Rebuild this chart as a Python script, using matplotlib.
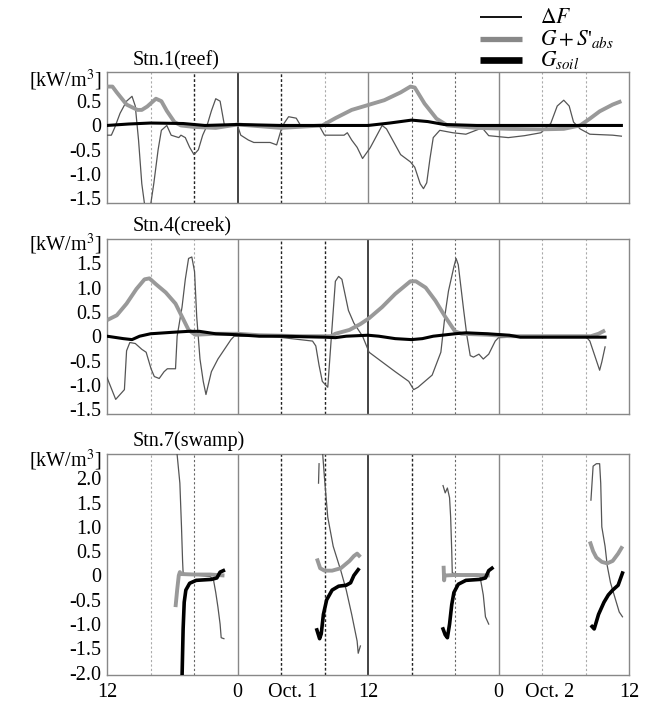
import numpy as np
import matplotlib
matplotlib.use('Agg')
import matplotlib.pyplot as plt
from matplotlib.lines import Line2D

plt.rcParams['font.family'] = ['Liberation Serif', 'DejaVu Serif']
plt.rcParams['mathtext.fontset'] = 'stix'

nan = np.nan

# hours after 12:00 on Sep. 30
# ---- Stn.1 (reef)
s1_df_t = [0, 0.4, 0.7, 1.2, 1.8, 2.3, 2.6, 2.9, 3.2, 3.5, 3.9, 4.3, 4.7, 5.0, 5.5, 5.9, 6.6, 6.8, 7.2, 7.6,
           8.0, 8.4, 8.8, 9.2, 9.6, 10.0, 10.4, 10.8, 11.2, 12.0, 12.3, 13.0, 13.5, 15.0, 15.6, 16.0, 16.3,
           16.7, 17.4, 17.8, 19.5, 20.0, 21.8, 22.1, 22.5, 23.0, 23.5, 24.2, 25.3, 25.7, 27.0, 27.9, 28.3,
           28.8, 29.1, 29.4, 29.7, 30.0, 30.6, 31.8, 33.0, 34.5, 35.1, 36.9, 38.4, 39.9, 40.8, 41.4, 42.0,
           42.5, 42.9, 43.5, 44.4, 46.5, 47.3]
s1_df_v = [-0.2, -0.2, -0.05, 0.25, 0.5, 0.6, 0.4, -0.3, -1.2, -1.7, -1.8, -1.2, -0.5, -0.1, 0.0, -0.2, -0.25,
           -0.2, -0.25, -0.45, -0.6, -0.5, -0.2, 0.0, 0.3, 0.55, 0.5, 0.0, 0.0, 0.0, -0.2, -0.3, -0.35, -0.35,
           -0.4, -0.1, 0.05, 0.18, 0.15, 0.0, 0.0, -0.2, -0.2, -0.15, -0.3, -0.45, -0.68, -0.46, 0.0, -0.07,
           -0.6, -0.75, -0.86, -1.2, -1.3, -1.18, -0.68, -0.25, -0.1, -0.15, -0.18, -0.05, -0.21, -0.25,
           -0.21, -0.15, 0.04, 0.4, 0.52, 0.4, 0.07, -0.07, -0.18, -0.2, -0.22]
s1_g_t = [0, 0.5, 0.9, 1.8, 2.8, 3.2, 3.7, 4.5, 5.0, 5.5, 6.2, 6.8, 8.0, 10.0, 12.0, 16.0, 19.8, 21.0, 22.5,
          24.0, 25.5, 27.0, 27.9, 28.3, 29.2, 30.3, 31.3, 34.0, 37.0, 39.9, 42.0, 43.5, 44.4, 45.3, 46.5, 47.3]
s1_g_v = [0.8, 0.8, 0.68, 0.43, 0.32, 0.32, 0.39, 0.55, 0.5, 0.3, 0.07, 0.0, -0.03, -0.05, 0.02, -0.05, 0.0,
          0.15, 0.32, 0.42, 0.52, 0.68, 0.8, 0.78, 0.45, 0.14, 0.0, -0.05, -0.07, -0.08, -0.07, 0.0, 0.14,
          0.29, 0.43, 0.5]
s1_s_t = [0, 2, 4, 7, 9, 12, 16, 20, 24, 26, 28, 29.5, 31, 34, 47.3]
s1_s_v = [0.0, 0.03, 0.05, 0.04, 0.0, 0.02, 0.0, 0.0, 0.0, 0.05, 0.11, 0.08, 0.02, 0.0, 0.0]

# ---- Stn.4 (creek)
s4_df_t = [0, 0.8, 1.2, 1.6, 1.8, 2.1, 2.6, 3.2, 3.6, 4.05, 4.35, 4.8, 5.25, 5.55, 6.3, 6.45, 6.9, 7.2, 7.5,
           7.8, 8.05, 8.25, 8.55, 8.85, 9.1, 9.6, 10.2, 10.8, 11.4, 11.7, 15.0, 18.9, 19.2, 19.5, 19.8,
           20.3, 20.7, 21.0, 21.3, 21.6, 22.2, 22.7, 23.5, 24.1, 25.3, 26.5, 27.75, 28.2, 28.6, 29.9, 30.7,
           31.1, 31.4, 31.9, 32.1, 32.3, 32.8, 33.1, 33.4, 33.7, 34.2, 34.6, 35.1, 35.7, 36.0, 40.0, 44.0,
           44.4, 44.85, 45.3, 45.5, 45.8]
s4_df_v = [-0.85, -1.3, -1.2, -1.1, -0.3, -0.13, -0.15, -0.27, -0.33, -0.67, -0.83, -0.87, -0.73, -0.67,
           -0.67, 0.0, 0.6, 1.17, 1.6, 1.63, 1.33, 0.4, -0.47, -0.93, -1.2, -0.73, -0.47, -0.27, -0.07, 0.0,
           0.0, -0.1, -0.2, -0.6, -0.93, -1.05, 0.2, 1.13, 1.23, 1.17, 0.53, 0.27, 0.0, -0.33, -0.53, -0.73,
           -0.93, -1.1, -1.05, -0.8, -0.33, 0.47, 0.93, 1.43, 1.6, 1.47, 0.53, 0.0, -0.4, -0.43, -0.37,
           -0.47, -0.37, -0.1, -0.03, 0.0, 0.0, -0.1, -0.4, -0.7, -0.53, -0.22]
s4_g_t = [0, 0.9, 1.8, 2.7, 3.45, 3.9, 4.5, 5.4, 6.3, 6.9, 7.5, 8.1, 10.0, 12.0, 14.0, 18.0, 20.6, 21.0,
          22.3, 23.3, 24.1, 25.3, 26.5, 27.9, 28.4, 29.3, 30.2, 31.1, 32.0, 32.6, 35.0, 37.0, 44.5, 45.2,
          45.8]
s4_g_v = [0.33, 0.43, 0.67, 0.97, 1.17, 1.19, 1.07, 0.9, 0.67, 0.4, 0.13, 0.03, 0.05, 0.05, 0.02, 0.0, 0.0,
          0.05, 0.13, 0.25, 0.37, 0.6, 0.87, 1.13, 1.13, 1.0, 0.73, 0.4, 0.1, 0.05, 0.03, 0.0, 0.0, 0.05,
          0.12]
s4_s_t = [0, 1.5, 2.3, 3, 4, 6, 7.5, 8.5, 10, 12, 14, 16, 20, 21, 22, 24, 25, 26.5, 28, 29, 30, 32, 33, 35,
          37, 38, 45.8]
s4_s_v = [0.0, -0.05, -0.07, 0.0, 0.05, 0.08, 0.1, 0.1, 0.05, 0.03, 0.0, 0.0, -0.02, -0.03, 0.0, 0.02, 0.0,
          -0.05, -0.07, -0.05, 0.0, 0.05, 0.07, 0.05, 0.02, -0.02, -0.02]

# ---- Stn.7 (swamp), night-time segments only (nan = gap)
s7_df_t = [6.4, 6.7, 6.85, 6.95, 7.0, 7.5, 8.5, 9.5, 9.8, 10.0, 10.2, 10.4, 10.5, 10.75, nan,
           19.45, 19.5, nan,
           19.8, 20.0, 20.3, 20.8, 21.5, 22.0, 22.5, 23.0, 23.1, 23.3, nan,
           30.9, 31.1, 31.3, 31.5, 31.6, 31.7, 31.75, 32.5, 33.5, 34.3, 34.6, 34.8, 35.1, nan,
           44.5, 44.7, 45.0, 45.3, 45.4, 45.5, 45.8, 46.0, 46.3, 46.7, 47.1, 47.4]
s7_df_v = [2.6, 1.9, 1.0, 0.3, 0.05, 0.02, 0.0, -0.02, -0.1, -0.35, -0.65, -1.0, -1.28, -1.3, nan,
           1.9, 2.3, nan,
           2.6, 2.0, 1.2, 0.6, 0.1, -0.3, -0.8, -1.35, -1.6, -1.45, nan,
           1.85, 1.7, 1.8, 1.6, 1.2, 0.5, 0.05, 0.02, 0.0, -0.02, -0.4, -0.85, -1.0, nan,
           1.55, 2.25, 2.3, 2.3, 1.9, 1.0, 0.6, 0.2, -0.15, -0.45, -0.75, -0.85]
s7_g_t = [6.3, 6.45, 6.6, 6.7, 6.8, 8.0, 9.5, 10.8, nan,
          19.3, 19.6, 20.0, 20.7, 21.5, 22.3, 22.7, 23.0, 23.3, nan,
          30.95, 31.0, 31.05, 32.0, 34.0, 35.2, nan,
          44.4, 44.7, 45.0, 45.5, 46.0, 46.5, 47.0, 47.4]
s7_g_v = [-0.65, -0.3, 0.0, 0.07, 0.03, 0.02, 0.02, 0.0, nan,
          0.35, 0.15, 0.1, 0.1, 0.15, 0.3, 0.4, 0.45, 0.38, nan,
          0.2, -0.1, 0.0, 0.01, 0.01, 0.0, nan,
          0.7, 0.5, 0.37, 0.28, 0.25, 0.3, 0.45, 0.6]
s7_s_t = [6.9, 6.95, 7.0, 7.1, 7.25, 7.6, 8.2, 9.6, 10.1, 10.4, 10.7, nan,
          19.3, 19.55, 19.7, 19.9, 20.2, 20.7, 21.3, 22.0, 22.4, 22.7, 23.1, nan,
          30.9, 31.1, 31.3, 31.5, 31.7, 31.9, 32.3, 33.0, 34.3, 34.8, 35.1, 35.4, nan,
          44.6, 44.8, 45.2, 45.7, 46.1, 46.5, 47.0, 47.4]
s7_s_v = [-2.1, -1.6, -1.1, -0.55, -0.3, -0.16, -0.1, -0.08, -0.05, 0.07, 0.1, nan,
          -1.12, -1.3, -1.2, -0.8, -0.5, -0.3, -0.22, -0.2, -0.15, 0.0, 0.12, nan,
          -1.1, -1.22, -1.28, -1.0, -0.6, -0.35, -0.18, -0.1, -0.08, -0.05, 0.1, 0.15, nan,
          -1.05, -1.1, -0.8, -0.55, -0.4, -0.3, -0.2, 0.05]

titles = ['Stn.1(reef)', 'Stn.4(creek)', 'Stn.7(swamp)']
ylims = [(-1.6, 1.1), (-1.6, 2.0), (-2.05, 2.5)]
yticks = [[-1.5, -1.0, -0.5, 0, 0.5], [-1.5, -1.0, -0.5, 0, 0.5, 1.0, 1.5],
          [-2.0, -1.5, -1.0, -0.5, 0, 0.5, 1.0, 1.5, 2.0]]
unit_y = [1.0, 1.95, 2.43]
xtick_pos = [0, 12, 17.1, 24, 36, 40.7, 48]
xtick_lab = ['12', '0', 'Oct. 1', '12', '0', 'Oct. 2', '12']

# vertical guide lines: hour -> kind ('k' solid black, 's' solid gray, 'd' dark dash, 'm' medium, 'l' light)
vl_hours = [4, 8, 12, 16, 20, 24, 28, 32, 36, 40, 44]
vl_kinds = [['l', 'd', 'k', 'd', 'l', 's', 'm', 'm', 's', 'l', 'l'],
            ['l', 'l', 's', 'd', 'd', 'k', 'm', 'm', 's', 'l', 'l'],
            ['l', 'm', 's', 'd', 'd', 'k', 'd', 'm', 's', 'l', 'l']]
vl_style = {'k': dict(color='#111111', lw=1.1, ls='-'),
            's': dict(color='#888888', lw=1.0, ls='-'),
            'd': dict(color='#222222', lw=1.0, ls=(0, (2.0, 1.5))),
            'm': dict(color='#666666', lw=0.8, ls=(0, (2.0, 2.0))),
            'l': dict(color='#aaaaaa', lw=0.8, ls=(0, (2.0, 2.0)))}

data = [(s1_df_t, s1_df_v, s1_g_t, s1_g_v, s1_s_t, s1_s_v),
        (s4_df_t, s4_df_v, s4_g_t, s4_g_v, s4_s_t, s4_s_v),
        (s7_df_t, s7_df_v, s7_g_t, s7_g_v, s7_s_t, s7_s_v)]

W, H = 660, 703
fig = plt.figure(figsize=(W / 100, H / 100), dpi=100)
left, right = 107, 629
ppu = 48.6
tops = [72, 239, 454]

for i in range(3):
    lo, hi = ylims[i]
    h = (hi - lo) * ppu
    ax = fig.add_axes([left / W, 1 - (tops[i] + h) / H, (right - left) / W, h / H])
    for hr, k in zip(vl_hours, vl_kinds[i]):
        ax.axvline(hr, zorder=1, **vl_style[k])
    dft, dfv, gt, gv, st, sv = data[i]
    ax.plot(dft, dfv, color='#555555', lw=0.9, zorder=3)
    ax.plot(gt, gv, color='#999999', lw=2.8, zorder=4, solid_capstyle='butt')
    ax.plot(st, sv, color='black', lw=2.2 if i < 2 else 2.6, zorder=5)
    ax.set_xlim(0, 48)
    ax.set_ylim(lo, hi)
    ax.set_yticks(yticks[i] + [unit_y[i]])
    ax.set_yticklabels(['0' if v == 0 else '%.1f' % v for v in yticks[i]] + ['[kW/m$^3$]'],
                       fontsize=14.5)
    ax.tick_params(length=0, pad=4)
    for sp in ax.spines.values():
        sp.set_color('#888888')
        sp.set_linewidth(1.0)
    ax.text(0.05, 1.015, titles[i], transform=ax.transAxes, ha='left', va='bottom', fontsize=14.5)
    if i < 2:
        ax.set_xticks([])
    else:
        ax.set_xticks(xtick_pos)
        ax.set_xticklabels(xtick_lab, fontsize=14.5)
        ax.tick_params(axis='x', pad=6)

# legend, drawn by hand in figure pixels
leg_labels = [r'$\Delta F$', r"$G+S$'$_{abs}$", r'$G_{soil}$']
leg_colors = ['black', '#888888', 'black']
leg_widths = [1.3, 3.8, 4.8]
leg_rows = [17, 39, 60]
for lab, c, lw, yp in zip(leg_labels, leg_colors, leg_widths, leg_rows):
    fig.add_artist(Line2D([480 / W, 522 / W], [1 - yp / H, 1 - yp / H], color=c, lw=lw,
                          transform=fig.transFigure, solid_capstyle='butt'))
    fig.text(540 / W, 1 - (yp + 6) / H, lab, fontsize=15.5, ha='left', va='baseline')

fig.savefig('out.png', dpi=100)
